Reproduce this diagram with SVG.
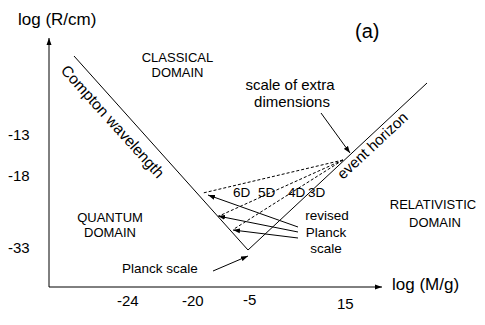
<svg xmlns="http://www.w3.org/2000/svg" width="485" height="325" viewBox="0 0 485 325">
<style>
text{font-family:"Liberation Sans",Arial,sans-serif;fill:#000}
.ln{stroke:#000;stroke-width:1;fill:none}
.ds{stroke:#000;stroke-width:1;fill:none;stroke-dasharray:3,2}
.ar{stroke:#000;stroke-width:1;fill:none;marker-end:url(#ah)}
.ax{font-size:17px}
.tk{font-size:15px}
.dm{font-size:13px;text-anchor:middle}
.lb{font-size:13.5px}
</style>
<defs>
<marker id="ah" markerUnits="userSpaceOnUse" markerWidth="8" markerHeight="6" refX="7" refY="3" orient="auto">
<path d="M0,0.5 L7,3 L0,5.5 z" fill="#000"/>
</marker>
</defs>
<g id="axes">
<line class="ar" x1="49" y1="287" x2="49" y2="38"/>
<line class="ar" x1="49" y1="287" x2="382" y2="287"/>
<text class="ax" x="18" y="25">log (R/cm)</text>
<text class="ax" x="392" y="290">log (M/g)</text>
<text class="tk" x="8" y="140">-13</text>
<text class="tk" x="8" y="181">-18</text>
<text class="tk" x="8" y="253">-33</text>
<text class="tk" x="117" y="306">-24</text>
<text class="tk" x="182" y="306">-20</text>
<text class="tk" x="243" y="305">-5</text>
<text class="tk" x="337" y="309">15</text>
<text x="355" y="38" font-size="20">(a)</text>
</g>
<g id="curves">
<polyline class="ln" points="74,56 248,250 427,83"/>
<text id="compton" font-size="15.5" transform="translate(60,71) rotate(48)">Compton wavelength</text>
<text id="horizon" font-size="15" transform="translate(343,180) rotate(-43)">event horizon</text>
</g>
<g id="domains">
<text class="dm" x="177.5" y="62">CLASSICAL</text>
<text class="dm" x="177.5" y="77">DOMAIN</text>
<text class="dm" x="110" y="222">QUANTUM</text>
<text class="dm" x="110" y="237">DOMAIN</text>
<text class="dm" x="433" y="209">RELATIVISTIC</text>
<text class="dm" x="435" y="227">DOMAIN</text>
</g>
<g id="labels">
<text font-size="15" text-anchor="middle"><tspan x="290" y="90">scale of extra</tspan><tspan x="292" y="107">dimensions</tspan></text>
<text font-size="13.5"><tspan x="233" y="197">6D</tspan><tspan x="258" y="197">5D</tspan><tspan x="288" y="197">4D</tspan><tspan x="308" y="197">3D</tspan></text>
<text class="lb" text-anchor="middle"><tspan x="327" y="220">revised</tspan><tspan x="326" y="237">Planck</tspan><tspan x="326" y="253">scale</tspan></text>
<text class="lb" x="122" y="273">Planck scale</text>
</g>
<g id="connectors">
<line class="ds" x1="343" y1="160" x2="203" y2="193"/>
<line class="ds" x1="343" y1="160" x2="219" y2="216"/>
<line class="ds" x1="343" y1="160" x2="234" y2="229"/>
<line class="ar" x1="298" y1="227" x2="208" y2="195"/>
<line class="ar" x1="298" y1="232" x2="218" y2="216"/>
<line class="ar" x1="298" y1="238" x2="233" y2="230"/>
<line class="ar" x1="213" y1="271" x2="248" y2="256"/>
<line class="ar" x1="321" y1="113" x2="350" y2="153"/>
</g>
</svg>
